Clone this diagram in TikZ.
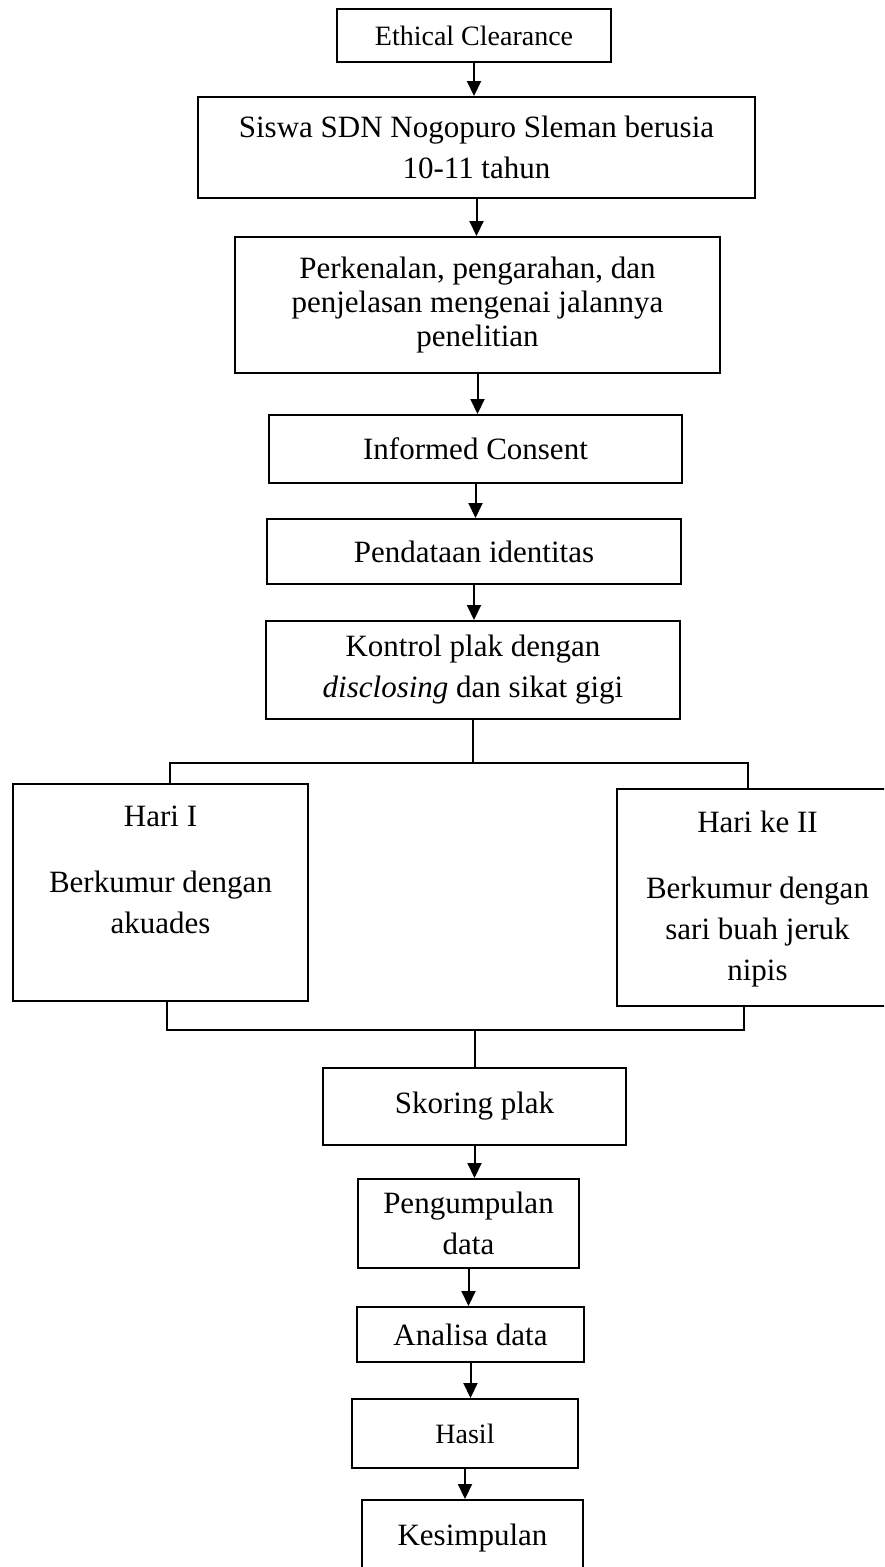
\documentclass[tikz,border=0pt]{standalone}
\usepackage{fontspec}
\setmainfont{Liberation Serif}
\usetikzlibrary{arrows.meta}

\begin{document}
\begin{tikzpicture}[x=1pt,y=-1pt,
    box/.style={draw,line width=2pt,inner sep=0pt,align=center,font=\fontsize{31}{41}\selectfont},
    smallbox/.style={box,font=\fontsize{28}{34}\selectfont},
    link/.style={line width=2pt},
    flowarrow/.style={link,-{Triangle[width=14pt,length=15pt]}}]
    \useasboundingbox (0,0) rectangle (884,1567);
    \fill[white] (0,0) rectangle (884,1567);
    \clip (0,0) rectangle (884,1567);

    % main column
    \node[smallbox,minimum width=274pt,minimum height=53pt] (ethical) at (474,35.5) {Ethical Clearance};
    \node[box,minimum width=557pt,minimum height=101pt] (siswa) at (476.5,147.5) {Siswa SDN Nogopuro Sleman berusia\\10-11 tahun};
    \node[box,minimum width=485pt,minimum height=136pt,font=\fontsize{31}{34}\selectfont] (perkenalan) at (477.5,305) {Perkenalan, pengarahan, dan\\penjelasan mengenai jalannya\\penelitian};
    \node[box,minimum width=413pt,minimum height=68pt] (informed) at (475.5,449) {Informed Consent};
    \node[box,minimum width=414pt,minimum height=65pt] (pendataan) at (474,551.5) {Pendataan identitas};
    \node[box,minimum width=414pt,minimum height=98pt] (kontrol) at (473,670) {Kontrol plak dengan\\\textit{disclosing} dan sikat gigi};

    % the two days
    \node[box,minimum width=295pt,minimum height=217pt] (hari1) at (160.5,892.5) {\parbox[c][217pt][t]{285pt}{\centering\vspace*{22pt}Hari I\\[25pt]Berkumur dengan\\akuades}};
    \node[box,minimum width=281pt,minimum height=217pt] (hari2) at (757.5,897.5) {\parbox[c][217pt][t]{271pt}{\centering\vspace*{22pt}Hari ke II\\[25pt]Berkumur dengan\\sari buah jeruk\\nipis}};

    \node[box,minimum width=303pt,minimum height=77pt] (skoring) at (474.5,1106) {Skoring plak};
    \node[box,minimum width=221pt,minimum height=89pt] (pengumpulan) at (468.5,1223.5) {Pengumpulan\\data};
    \node[box,minimum width=227pt,minimum height=55pt] (analisa) at (470.5,1334.5) {Analisa data};
    \node[smallbox,minimum width=226pt,minimum height=69pt] (hasil) at (465,1433.5) {Hasil};
    \node[box,minimum width=221pt,minimum height=76pt] (kesimpulan) at (472.5,1538) {Kesimpulan};

    % arrows
    \foreach \a/\b in {ethical/siswa,siswa/perkenalan,perkenalan/informed,informed/pendataan,pendataan/kontrol,
                       skoring/pengumpulan,pengumpulan/analisa,analisa/hasil,hasil/kesimpulan}
        \draw[flowarrow] (\a.south) -- (\a.south |- \b.north);

    % split and merge
    \draw[link] (kontrol.south) -- ++(0,43) coordinate (split);
    \draw[link] ([xshift=9pt]hari1.north) |- (split) -| ([xshift=-10pt]hari2.north);
    \draw[link] (skoring.north) -- ++(0,-37) coordinate (merge);
    \draw[link] ([xshift=6pt]hari1.south) |- (merge) -| ([xshift=-14pt]hari2.south);
\end{tikzpicture}
\end{document}
